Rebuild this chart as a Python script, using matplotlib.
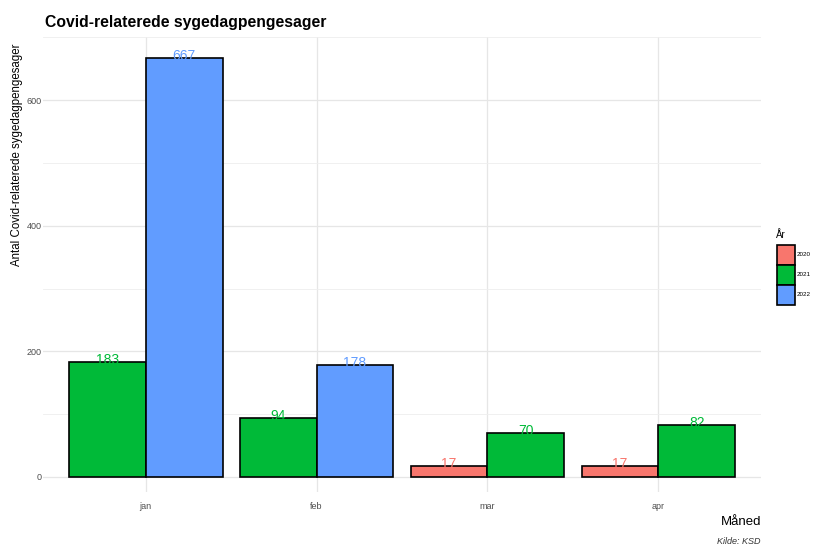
import matplotlib
matplotlib.use('Agg')
import matplotlib.pyplot as plt
import numpy as np

# data
months = ['jan', 'feb', 'mar', 'apr']
years = ['2020', '2021', '2022']
values = {
    '2020': [None, None, 17, 17],
    '2021': [183, 94, 70, 82],
    '2022': [667, 178, None, None],
}
colors = {'2020': '#F8766D', '2021': '#00BA38', '2022': '#619CFF'}

plt.rcParams['font.family'] = ['Liberation Sans', 'DejaVu Sans']

W, H = 813, 547
fig = plt.figure(figsize=(W / 100, H / 100), dpi=100)
# panel in pixels: left 43, right 761, top 37, bottom 492
ax = fig.add_axes([43 / W, 1 - 492 / H, (761 - 43) / W, (492 - 37) / H])

x = np.arange(len(months))
for i, m in enumerate(months):
    present = [y for y in years if values[y][i] is not None]
    w = 0.9 / len(present)
    for j, y in enumerate(present):
        xc = i - 0.45 + w * (j + 0.5)
        v = values[y][i]
        ax.bar(xc, v, width=w, color=colors[y], edgecolor='black', linewidth=1.2, zorder=3)
        ax.text(xc, v - 8, str(v), color=colors[y], ha='center', va='bottom', fontsize=10, zorder=4)

ax.set_xlim(-0.6, 3.6)
ax.set_ylim(-24, 700.5)
ax.set_xticks(x)
ax.set_xticklabels(months)
ax.set_yticks([0, 200, 400, 600])
ax.set_yticks([100, 300, 500, 700], minor=True)
ax.tick_params(axis='both', length=0, labelsize=6.5, labelcolor='#4d4d4d')
ax.tick_params(axis='x', pad=7)
ax.tick_params(axis='y', pad=1)
ax.tick_params(axis='y', which='minor', length=0)
ax.grid(which='major', color='#e6e6e6', linewidth=0.9, zorder=0)
ax.grid(which='minor', axis='y', color='#eeeeee', linewidth=0.6, zorder=0)
for s in ax.spines.values():
    s.set_visible(False)

ax.set_xlabel('Måned', fontsize=9.5, loc='right', labelpad=4)
fig.text(17 / W, 1 - 155 / H, 'Antal Covid-relaterede sygedagpengesager', fontsize=8.3,
         rotation=90, ha='center', va='center')
fig.text(45 / W, 1 - 22 / H, 'Covid-relaterede sygedagpengesager', fontsize=11.3,
         fontweight='bold', va='center', ha='left')
fig.text(760 / W, 1 - 541 / H, 'Kilde: KSD', fontsize=6.5, style='italic',
         ha='right', va='center', color='#333333')

# legend
fig.text(776 / W, 1 - 235 / H, 'År', fontsize=7, va='center', ha='left')
for k, y in enumerate(years):
    top = 245 + k * 20
    fig.patches.append(plt.Rectangle((777 / W, 1 - (top + 20) / H), 18 / W, 20 / H,
                                     transform=fig.transFigure, facecolor=colors[y],
                                     edgecolor='black', linewidth=1.2))
    fig.text(797 / W, 1 - (top + 10) / H, y, fontsize=4.5, va='center', ha='left')

fig.savefig('out.png', dpi=100)
